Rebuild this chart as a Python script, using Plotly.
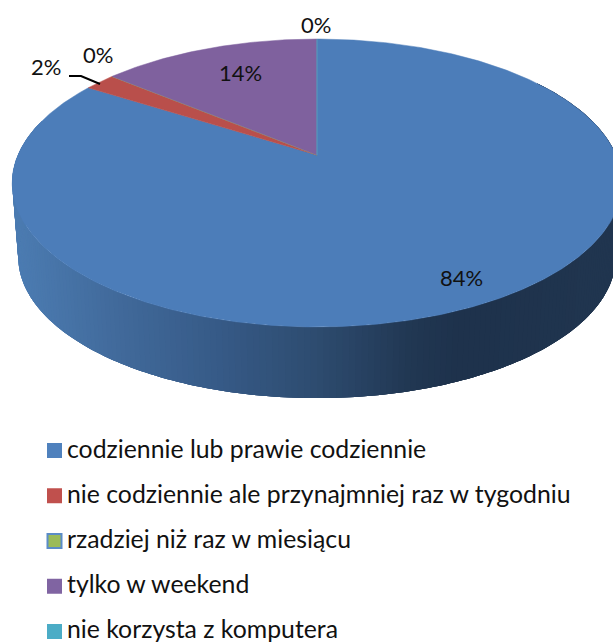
import numpy as np
import plotly.graph_objects as go

categories = ["codziennie lub prawie codziennie",
              "nie codziennie ale przynajmniej raz w tygodniu",
              "rzadziej niż raz w miesiącu",
              "tylko w weekend",
              "nie korzysta z komputera"]
# Clockwise order from 12 o'clock, as the slices are drawn
values = [84, 2, 0, 14, 0]
top_colors = ["#4C7DB9", "#B94F4B", "#9BBB59", "#7F619E", "#4BACC6"]
key_colors = ["#4F81BD", "#C0504D", "#9BBB59", "#8064A2", "#4BACC6"]
key_borders = ["#4F81BD", "#C0504D", "#5B8CC8", "#8064A2", "#4BACC6"]
FONT = "Lato"

# Projection of the unit disc to the plot's axes (perspective tilt)
CX, APEX_Y, R = 317.0, 155.0, 299.0
TILT, YK = 0.1944, -108.4
WALL_SCALE, TOP_CY, BOT_CY = 0.98, 183.0, 257.0


def project(theta):
    u, v = np.sin(theta), np.cos(theta)
    w = 1 + TILT * v
    return CX + R * u / w, (YK * v + APEX_Y) / w


def project_bottom(theta):
    x, y = project(theta)
    return CX + WALL_SCALE * (x - CX), BOT_CY + WALL_SCALE * (y - TOP_CY)


def wall_color(x):
    stops_x = [12, 100, 200, 300, 400, 450, 613]
    stops = np.array([[76, 124, 178], [66, 107, 156], [55, 91, 136], [46, 76, 112],
                      [33, 55, 82], [30, 50, 76], [33, 54, 80]])
    c = [np.interp(x, stops_x, stops[:, i]) for i in range(3)]
    return "rgb(%d,%d,%d)" % tuple(c)


fig = go.Figure()

# Side wall of the disc: overlapping strips painted one over the next, so no seams show
edges = np.radians(np.linspace(55, 285, 231))
for i in range(len(edges) - 1):
    th = np.linspace(edges[max(i - 3, 0)], edges[i + 1], 5)
    xt, yt = project(th)
    xb, yb = project_bottom(th[::-1])
    col = wall_color(float(project(edges[i])[0]))
    fig.add_trace(go.Scatter(x=list(xt) + list(xb), y=list(yt) + list(yb), mode="none",
                             fill="toself", fillcolor=col,
                             hoverinfo="skip", showlegend=False))

# Top face
total = sum(values)
start = 0.0
for name, val, col in zip(categories, values, top_colors):
    sweep = val / total * 2 * np.pi
    th = np.linspace(start, start + sweep, max(2, int(val * 6)))
    xr, yr = project(th)
    fig.add_trace(go.Scatter(x=[CX] + list(xr) + [CX], y=[APEX_Y] + list(yr) + [APEX_Y],
                             mode="lines", fill="toself", fillcolor=col,
                             line=dict(color=col, width=0.5), name=name,
                             hoverinfo="name", showlegend=False))
    start += sweep

# Legend swatches; their texts are annotations below
for i, name in enumerate(categories):
    fig.add_trace(go.Scatter(x=[54.5], y=[450.5 + 45.25 * i], mode="markers", name=name,
                             marker=dict(symbol="square", size=15 if i != 2 else 14, color=key_colors[i],
                                         line=dict(color=key_borders[i], width=2 if i == 2 else 0)),
                             hoverinfo="name", showlegend=False))

# Data labels
label_pos = [(461, 277), (46, 66), (98, 54), (240, 72), (316, 24)]
annotations = [dict(x=p[0], y=p[1], xref="x", yref="y", text="%d%%" % v, showarrow=False,
                    font=dict(family=FONT, size=22, color="#111111"))
               for v, p in zip(values, label_pos)]
annotations += [dict(x=65, y=448 + 45 * i, xref="x", yref="y", xanchor="left", text=name,
                     showarrow=False, font=dict(family=FONT, size=24.8, color="#111111"))
                for i, name in enumerate(categories)]

fig.add_shape(type="path", path="M 69 76 L 81 76 L 100 84", xref="x", yref="y",
              line=dict(color="black", width=2))

fig.update_layout(
    width=613, height=643, margin=dict(l=0, r=0, t=0, b=0),
    paper_bgcolor="white", plot_bgcolor="white", showlegend=False,
    xaxis=dict(range=[0, 613], visible=False, fixedrange=True),
    yaxis=dict(range=[643, 0], visible=False, fixedrange=True),
    annotations=annotations,
)
fig.write_html("out.html", config=dict(displayModeBar=False),
               post_script="document.body.style.margin='0';document.body.style.overflow='hidden';")
